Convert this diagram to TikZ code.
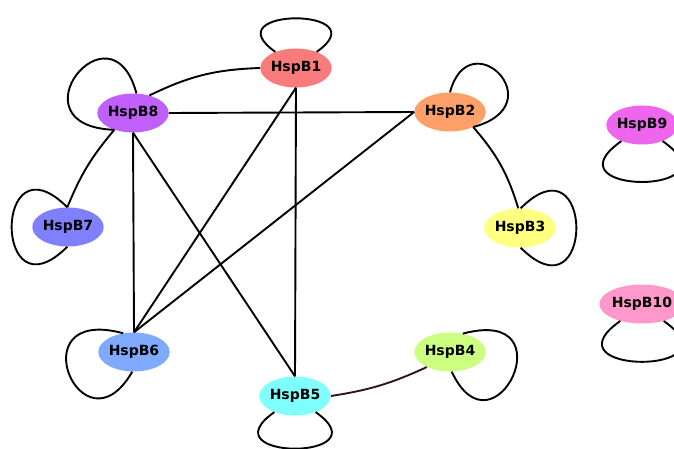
\documentclass[tikz,border=0pt]{standalone}
\usepackage{fontspec}
\setsansfont{DejaVu Sans}
\usetikzlibrary{shapes.geometric}
\definecolor{hspone}{RGB}{248,124,124}
\definecolor{hsptwo}{RGB}{255,160,106}
\definecolor{hspthree}{RGB}{255,255,128}
\definecolor{hspfour}{RGB}{204,255,128}
\definecolor{hspfive}{RGB}{128,255,255}
\definecolor{hspsix}{RGB}{128,170,255}
\definecolor{hspseven}{RGB}{128,128,255}
\definecolor{hspeight}{RGB}{192,96,250}
\definecolor{hspnine}{RGB}{238,102,238}
\definecolor{hspten}{RGB}{255,153,204}
\definecolor{linkbrown}{RGB}{50,22,22}

\begin{document}
\begin{tikzpicture}[x=1pt,y=-1pt,
  every node/.style={font=\sffamily\bfseries\fontsize{14}{16}\selectfont},
  hsp/.style={ellipse,inner sep=0pt,minimum width=\nw pt,minimum height=\nh pt},
  link/.style={line width=1.9pt,black}]

  \useasboundingbox (0,0) rectangle (674,449);

  % ── node size ───────────────────────────────────────────────────
  \def\nw{66}
  \def\nh{39}

  % ── ring of proteins ────────────────────────────────────────────
  \node[hsp,fill=hspone]   (b1) at (296,68)  {HspB1};
  \node[hsp,fill=hsptwo]   (b2) at (450,112) {HspB2};
  \node[hsp,fill=hspthree] (b3) at (520,228) {HspB3};
  \node[hsp,fill=hspfour]  (b4) at (450,352) {HspB4};
  \node[hsp,fill=hspfive]  (b5) at (295,396) {HspB5};
  \node[hsp,fill=hspsix]   (b6) at (134,352) {HspB6};
  \node[hsp,fill=hspseven] (b7) at (68,227)  {HspB7};
  \node[hsp,fill=hspeight] (b8) at (133,113) {HspB8};

  % isolated ones
  \node[hsp,fill=hspnine]  (b9)  at (642,125) {HspB9};
  \node[hsp,fill=hspten]   (b10) at (642,304) {HspB10};

  % ── straight links ──────────────────────────────────────────────
  \draw[link] (b8.east)  -- (b2.west);
  \draw[link] (b1.south) -- (b6.north);
  \draw[link] (b1.south) -- (b5.north);
  \draw[link] (b2.west)  -- (b6.north);
  \draw[link] (b8.south) -- (b6.north);
  \draw[link] (b8.south) -- (b5.north);

  % ── arcs along the ring ─────────────────────────────────────────
  \draw[link] (b8.47)  to[bend left=12]  (b1.west);
  \draw[link] (b2.327) to[bend left=12]  (b3.95);
  \draw[link] (b8.222) to[bend right=9]  (b7.92);
  \draw[link,linkbrown] (b5.east) to[bend right=8] (b4.213);

  % ── self loops ──────────────────────────────────────────────────
  \draw[link] (b1.142) .. controls +(145:78pt) and +(35:78pt) .. (b1.38);
  \draw[link] (b2.90) .. controls +(75:75pt) and +(15:85pt) .. (b2.327);
  \draw[link] (b3.88) .. controls +(45:105pt) and +(315:105pt) .. (b3.272);
  \draw[link] (b4.55) .. controls +(15:110pt) and +(295:100pt) .. (b4.275);
  \draw[link] (b5.218) .. controls +(215:85pt) and +(325:85pt) .. (b5.322);
  \draw[link] (b6.120) .. controls +(165:110pt) and +(240:100pt) .. (b6.265);
  \draw[link] (b7.92) .. controls +(135:105pt) and +(225:105pt) .. (b7.268);
  \draw[link] (b8.80) .. controls +(105:98pt) and +(178:105pt) .. (b8.222);
  \draw[link] (b9.218) .. controls +(215:95pt) and +(325:95pt) .. (b9.322);
  \draw[link] (b10.218) .. controls +(215:95pt) and +(325:95pt) .. (b10.322);

\end{tikzpicture}
\end{document}
